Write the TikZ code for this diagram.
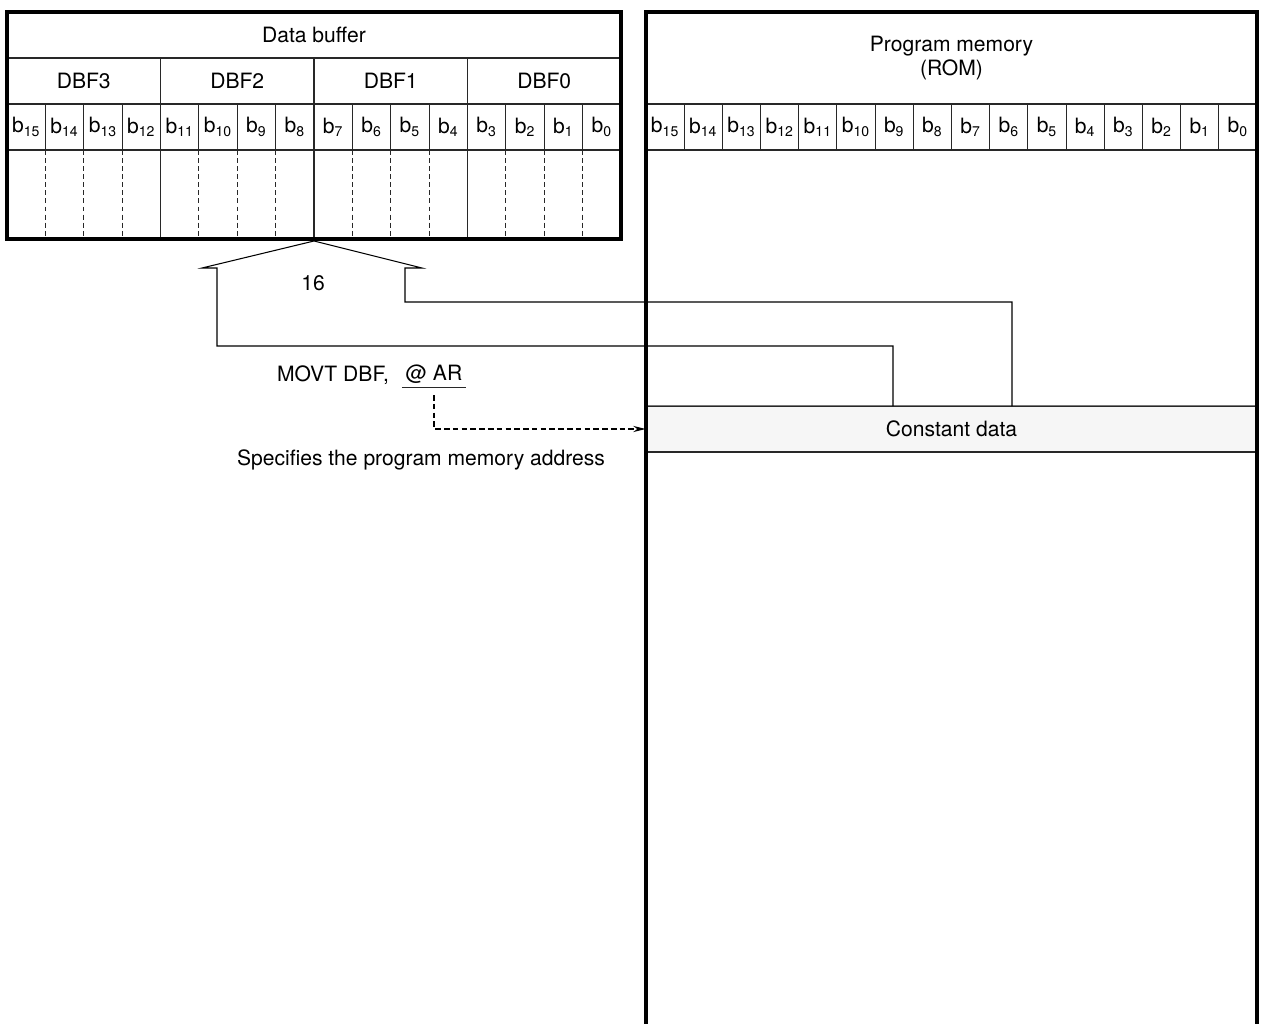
\documentclass[tikz,border=0pt]{standalone}
\usepackage{fontspec}
\setmainfont{TeX Gyre Heros}
\usetikzlibrary{arrows.meta, positioning, calc}
\definecolor{lineGray}{RGB}{40, 40, 40}
\definecolor{bandGray}{RGB}{246, 246, 246}
\definecolor{edgeGray}{RGB}{120, 120, 120}

\begin{document}
\begin{tikzpicture}[
    x=0.02cm, y=-0.02cm,
    every node/.style={font=\fontsize{12}{13.6}\selectfont, inner sep=0pt},
    cell/.style={draw=lineGray, line width=0.6pt, minimum height=0.92cm, align=center},
    dbcell/.style={cell, minimum width=0.7675cm},
    pmcell/.style={cell, minimum width=0.7638cm},
    frame/.style={draw=black, line width=1.8pt},
    gridline/.style={draw=lineGray, line width=0.6pt},
    slot/.style={draw=lineGray, line width=0.6pt, dash pattern=on 2.8pt off 1.8pt},
    bus/.style={draw=black, line width=0.6pt, line join=miter},
    addr/.style={draw=black, line width=0.6pt, dash pattern=on 3.2pt off 1.8pt, -{Stealth[length=7pt, width=3.5pt]}}
]
    \useasboundingbox (0,0) rectangle (1262,1024);

    % Data buffer (DBF3 ... DBF0)
    \node[cell, minimum width=12.28cm] (dbTitle) at (314,35) {Data buffer};
    \foreach \k in {0,...,3} {
        \pgfmathtruncatemacro\g{3-\k}
        \node[cell, minimum width=3.07cm] (dbf\g) at ({7+153.5*(\k+0.5)},81) {DBF\g};
    }
    \foreach \i in {0,...,15} {
        \pgfmathtruncatemacro\b{15-\i}
        \node[dbcell] (db\b) at ({7+38.375*(\i+0.5)},127) {b\textsubscript{\b}};
    }
    % empty row: solid between nibbles, dashed between bits
    \foreach \i in {4,8,12}
        \draw[gridline] ({7+38.375*\i},150) -- ({7+38.375*\i},239);
    \foreach \i in {1,2,3,5,6,7,9,10,11,13,14,15}
        \draw[slot] ({7+38.375*\i},150) -- ({7+38.375*\i},239);
    \draw[frame] (7,12) rectangle (621,239);

    % Program memory (ROM), open at the bottom
    \node[cell, minimum width=12.22cm, minimum height=1.84cm] (pmTitle) at (951.5,58) {Program memory\\(ROM)};
    \foreach \i in {0,...,15} {
        \pgfmathtruncatemacro\b{15-\i}
        \node[pmcell] (pm\b) at ({646+38.1875*(\i+0.5)},127) {b\textsubscript{\b}};
    }
    \node[cell, fill=bandGray, minimum width=12.22cm] (const) at (951.5,429) {Constant data};
    \draw[gridline, edgeGray] (const.north west) -- (const.north east);
    \draw[frame] (646,1024) |- (1257,12) -- (1257,1024);

    % 16-bit transfer path
    \coordinate (tip) at (314,241);
    \coordinate (srcL) at (893,406);
    \coordinate (srcR) at (1012,406);
    \draw[bus] (srcL) |- (217,346) -- (217,268) -- (202,268) -- (tip)
        -- (422,268) -- (405,268) -- (405,302) -| (srcR);
    \node (width) at (313,283) {16};

    % Instruction and address pointer
    \node (movt) at (333,375) {MOVT DBF,};
    \node[inner xsep=2pt, inner ysep=2pt] (ar) at (434,374) {@ AR};
    \draw[gridline] (ar.south west) -- (ar.south east);
    \draw[addr, shorten <=4.5pt] (ar.south) |- (const.west);
    \node (note) at (421,460) {Specifies the program memory address};
\end{tikzpicture}
\end{document}
